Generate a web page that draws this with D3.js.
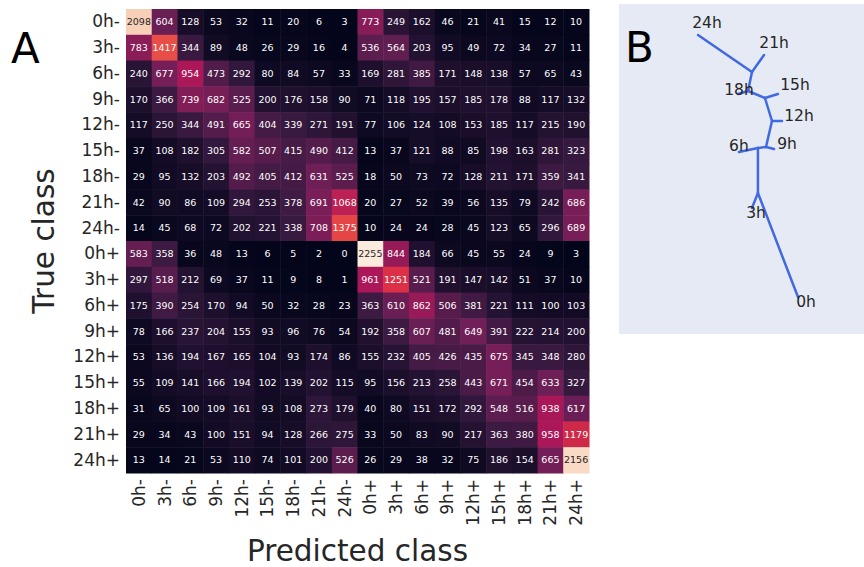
<!DOCTYPE html>
<html>
<head>
<meta charset="utf-8">
<script src="https://cdn.jsdelivr.net/npm/d3@7"></script>
<style>
  body { margin: 0; background: #fff; }
</style>
</head>
<body>
<div id="fig"></div>
<script>
const classes = ["0h-", "3h-", "6h-", "9h-", "12h-", "15h-", "18h-", "21h-", "24h-",
                 "0h+", "3h+", "6h+", "9h+", "12h+", "15h+", "18h+", "21h+", "24h+"];

// rows = true class, columns = predicted class
const confusion = [
  [2098, 604, 128, 53, 32, 11, 20, 6, 3, 773, 249, 162, 46, 21, 41, 15, 12, 10],
  [783, 1417, 344, 89, 48, 26, 29, 16, 4, 536, 564, 203, 95, 49, 72, 34, 27, 11],
  [240, 677, 954, 473, 292, 80, 84, 57, 33, 169, 281, 385, 171, 148, 138, 57, 65, 43],
  [170, 366, 739, 682, 525, 200, 176, 158, 90, 71, 118, 195, 157, 185, 178, 88, 117, 132],
  [117, 250, 344, 491, 665, 404, 339, 271, 191, 77, 106, 124, 108, 153, 185, 117, 215, 190],
  [37, 108, 182, 305, 582, 507, 415, 490, 412, 13, 37, 121, 88, 85, 198, 163, 281, 323],
  [29, 95, 132, 203, 492, 405, 412, 631, 525, 18, 50, 73, 72, 128, 211, 171, 359, 341],
  [42, 90, 86, 109, 294, 253, 378, 691, 1068, 20, 27, 52, 39, 56, 135, 79, 242, 686],
  [14, 45, 68, 72, 202, 221, 338, 708, 1375, 10, 24, 24, 28, 45, 123, 65, 296, 689],
  [583, 358, 36, 48, 13, 6, 5, 2, 0, 2255, 844, 184, 66, 45, 55, 24, 9, 3],
  [297, 518, 212, 69, 37, 11, 9, 8, 1, 961, 1251, 521, 191, 147, 142, 51, 37, 10],
  [175, 390, 254, 170, 94, 50, 32, 28, 23, 363, 610, 862, 506, 381, 221, 111, 100, 103],
  [78, 166, 237, 204, 155, 93, 96, 76, 54, 192, 358, 607, 481, 649, 391, 222, 214, 200],
  [53, 136, 194, 167, 165, 104, 93, 174, 86, 155, 232, 405, 426, 435, 675, 345, 348, 280],
  [55, 109, 141, 166, 194, 102, 139, 202, 115, 95, 156, 213, 258, 443, 671, 454, 633, 327],
  [31, 65, 100, 109, 161, 93, 108, 273, 179, 40, 80, 151, 172, 292, 548, 516, 938, 617],
  [29, 34, 43, 100, 151, 94, 128, 266, 275, 33, 50, 83, 90, 217, 363, 380, 958, 1179],
  [13, 14, 21, 53, 110, 74, 101, 200, 526, 26, 29, 38, 32, 75, 186, 154, 665, 2156]
];

// panel B: tree embedding (arbitrary units)
const treeNodes = [
  { id: "24h", u: 0.77, v: 23.85 },
  { id: "21h", u: 5.85, v: 22.31 },
  { id: "A",   u: 4.92, v: 21.0 },
  { id: "B",   u: 4.62, v: 19.54 },
  { id: "18h", u: 3.85, v: 19.31 },
  { id: "C",   u: 5.92, v: 19.0 },
  { id: "15h", u: 6.92, v: 19.31 },
  { id: "D",   u: 6.46, v: 17.23 },
  { id: "12h", u: 7.23, v: 17.23 },
  { id: "E",   u: 6.0,  v: 15.23 },
  { id: "9h",  u: 6.62, v: 15.08 },
  { id: "F",   u: 5.38, v: 15.15 },
  { id: "6h",  u: 3.92, v: 14.85 },
  { id: "G",   u: 5.38, v: 11.69 },
  { id: "3h",  u: 4.92, v: 10.54 },
  { id: "0h",  u: 8.46, v: 3.69 }
];
const treeEdges = [
  ["A", "24h"], ["A", "21h"], ["A", "B"], ["B", "18h"], ["B", "C"], ["C", "15h"],
  ["C", "D"], ["D", "12h"], ["D", "E"], ["E", "9h"], ["E", "F"], ["F", "6h"],
  ["F", "G"], ["G", "3h"], ["G", "0h"]
];
const leafLabels = [
  { name: "24h", u: 1.46, v: 24.77 },
  { name: "21h", u: 6.62, v: 23.23 },
  { name: "18h", u: 3.92, v: 19.62 },
  { name: "15h", u: 8.23, v: 20.0 },
  { name: "12h", u: 8.54, v: 17.62 },
  { name: "9h",  u: 7.62, v: 15.46 },
  { name: "6h",  u: 3.92, v: 15.31 },
  { name: "3h",  u: 5.23, v: 10.15 },
  { name: "0h",  u: 9.08, v: 3.31 }
];

const width = 864, height = 567;
const font = "'DejaVu Sans', sans-serif";
const ink = "#262626";

const svg = d3.select("#fig").append("svg")
  .attr("width", width)
  .attr("height", height)
  .style("font-family", font);

// ---- panel A: heatmap ----
const x = d3.scaleBand().domain(classes).range([126, 589]);
const y = d3.scaleBand().domain(classes).range([9, 473]);

// seaborn "rocket" sampled
const rocket = d3.scaleLinear()
  .domain([0, 1/7, 2/7, 3/7, 4/7, 5/7, 6/7, 1])
  .range(["#03051a", "#35193e", "#701f57", "#ad1759", "#e13342", "#f37651", "#f6b48f", "#faebdd"])
  .interpolate(d3.interpolateRgb);
const allVals = confusion.flat();
const color = v => rocket((v - d3.min(allVals)) / (d3.max(allVals) - d3.min(allVals)));

function luminance(c) {
  const rgb = d3.rgb(c);
  const lin = [rgb.r, rgb.g, rgb.b].map(v => {
    v /= 255;
    return v <= 0.03928 ? v / 12.92 : Math.pow((v + 0.055) / 1.055, 2.4);
  });
  return 0.2126 * lin[0] + 0.7152 * lin[1] + 0.0722 * lin[2];
}

const cells = confusion.flatMap((row, i) =>
  row.map((value, j) => ({ row: classes[i], col: classes[j], value })));

const heat = svg.append("g");
heat.selectAll("rect")
  .data(cells)
  .join("rect")
  .attr("x", d => x(d.col))
  .attr("y", d => y(d.row))
  .attr("width", x.bandwidth() + 0.5)
  .attr("height", y.bandwidth() + 0.5)
  .attr("fill", d => color(d.value));

heat.selectAll("text")
  .data(cells)
  .join("text")
  .attr("x", d => x(d.col) + x.bandwidth() / 2)
  .attr("y", d => y(d.row) + y.bandwidth() / 2)
  .attr("dy", "0.35em")
  .attr("text-anchor", "middle")
  .attr("font-size", 9.5)
  .attr("fill", d => luminance(color(d.value)) > 0.408 ? ink : "#fff")
  .text(d => d.value);

// y axis
svg.append("g")
  .attr("transform", `translate(${x.range()[0]},0)`)
  .call(d3.axisLeft(y).tickSize(0).tickPadding(6))
  .call(g => g.select(".domain").remove())
  .call(g => g.selectAll("text")
    .attr("font-size", 17)
    .attr("font-family", font)
    .attr("fill", ink));

// x axis
svg.append("g")
  .attr("transform", `translate(0,${y.range()[1]})`)
  .call(d3.axisBottom(x).tickSize(0))
  .call(g => g.select(".domain").remove())
  .call(g => g.selectAll("text")
    .attr("font-size", 17)
    .attr("font-family", font)
    .attr("fill", ink)
    .attr("transform", "rotate(-90)")
    .attr("text-anchor", "end")
    .attr("x", -6)
    .attr("y", 0)
    .attr("dy", "0.35em"));

svg.append("text")
  .attr("transform", `translate(44,${(y.range()[0] + y.range()[1]) / 2}) rotate(-90)`)
  .attr("text-anchor", "middle")
  .attr("dy", "0.35em")
  .attr("font-size", 29.5)
  .attr("fill", ink)
  .text("True class");

svg.append("text")
  .attr("x", (x.range()[0] + x.range()[1]) / 2)
  .attr("y", 561)
  .attr("text-anchor", "middle")
  .attr("font-size", 29.5)
  .attr("fill", ink)
  .text("Predicted class");

svg.append("text")
  .attr("x", 11)
  .attr("y", 63)
  .attr("font-size", 42)
  .attr("fill", "#000")
  .text("A");

// ---- panel B: tree ----
svg.append("rect")
  .attr("x", 619)
  .attr("y", 4)
  .attr("width", width - 619)
  .attr("height", 330)
  .attr("fill", "#e5eaf5");

const tx = d3.scaleLinear().domain([0, 10]).range([688, 818]);
const ty = d3.scaleLinear().domain([0, 25]).range([345, 20]);
const nodeById = new Map(treeNodes.map(d => [d.id, d]));

svg.append("g")
  .selectAll("line")
  .data(treeEdges)
  .join("line")
  .attr("x1", d => tx(nodeById.get(d[0]).u))
  .attr("y1", d => ty(nodeById.get(d[0]).v))
  .attr("x2", d => tx(nodeById.get(d[1]).u))
  .attr("y2", d => ty(nodeById.get(d[1]).v))
  .attr("stroke", "#4169e1")
  .attr("stroke-width", 2.5)
  .attr("stroke-linecap", "round");

svg.append("g")
  .selectAll("text")
  .data(leafLabels)
  .join("text")
  .attr("x", d => tx(d.u))
  .attr("y", d => ty(d.v))
  .attr("dy", "0.35em")
  .attr("text-anchor", "middle")
  .attr("font-size", 15.5)
  .attr("fill", ink)
  .text(d => d.name);

svg.append("text")
  .attr("x", 625)
  .attr("y", 62)
  .attr("font-size", 42)
  .attr("fill", "#000")
  .text("B");
</script>
</body>
</html>
